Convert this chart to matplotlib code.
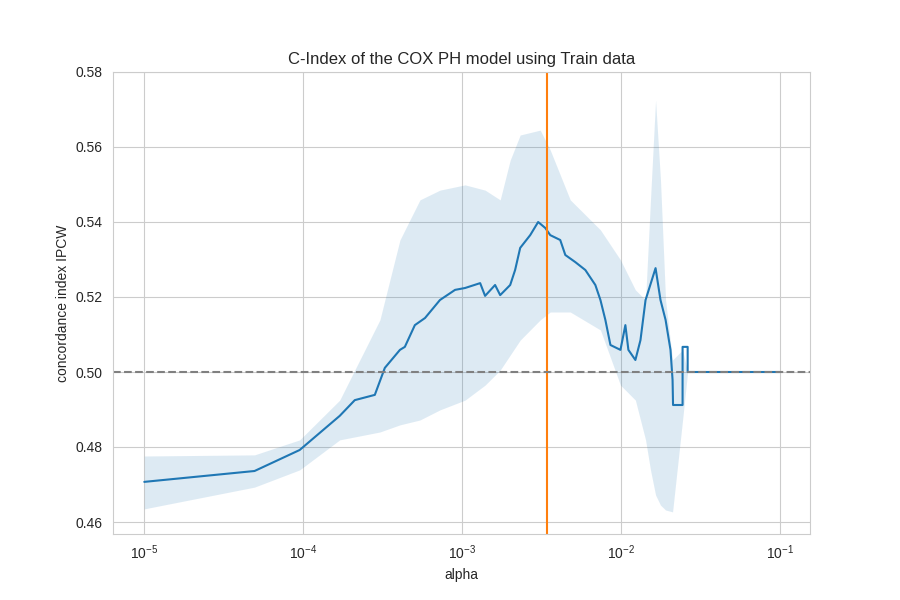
import matplotlib
matplotlib.use('Agg')
import numpy as np
import matplotlib.pyplot as plt
import seaborn as sns

# mean concordance index vs alpha (log10 of alpha)
line_log_alpha = [-5.000, -4.306, -4.022, -3.770, -3.675, -3.549, -3.486, -3.391, -3.360,
                  -3.297, -3.233, -3.139, -3.044, -2.981, -2.886, -2.855, -2.792, -2.760,
                  -2.697, -2.666, -2.634, -2.571, -2.521, -2.476, -2.445, -2.382, -2.350,
                  -2.287, -2.224, -2.161, -2.129, -2.098, -2.066, -2.003, -1.972, -1.953,
                  -1.909, -1.877, -1.845, -1.782, -1.751, -1.719, -1.688, -1.675, -1.672,
                  -1.612, -1.612, -1.580, -1.580, -1.000]
line_cindex = [0.4707, 0.4736, 0.4792, 0.4883, 0.4925, 0.4939, 0.5011, 0.5059, 0.5067,
               0.5125, 0.5144, 0.5192, 0.5219, 0.5224, 0.5237, 0.5203, 0.5232, 0.5205,
               0.5232, 0.5272, 0.5331, 0.5365, 0.5400, 0.5384, 0.5365, 0.5352, 0.5312,
               0.5293, 0.5272, 0.5232, 0.5192, 0.5139, 0.5072, 0.5059, 0.5125, 0.5059,
               0.5032, 0.5085, 0.5192, 0.5277, 0.5192, 0.5139, 0.5059, 0.4979, 0.4912,
               0.4912, 0.5067, 0.5067, 0.5000, 0.5000]

# spread band
band_log_alpha = [-5.000, -4.306, -4.022, -3.770, -3.517, -3.391, -3.265, -3.139, -2.981,
                  -2.855, -2.760, -2.697, -2.634, -2.508, -2.445, -2.319, -2.129, -2.003,
                  -1.909, -1.845, -1.814, -1.782, -1.751, -1.719, -1.675, -1.612, -1.580,
                  -1.000]
band_upper = [0.4776, 0.4779, 0.4819, 0.4925, 0.5139, 0.5352, 0.5459, 0.5485, 0.5499,
              0.5485, 0.5459, 0.5565, 0.5632, 0.5645, 0.5592, 0.5459, 0.5379, 0.5299,
              0.5219, 0.5192, 0.5459, 0.5725, 0.5512, 0.5192, 0.5032, 0.5059, 0.5000,
              0.5000]
band_lower = [0.4635, 0.4693, 0.4739, 0.4819, 0.4840, 0.4859, 0.4872, 0.4899, 0.4925,
              0.4965, 0.5005, 0.5045, 0.5085, 0.5139, 0.5160, 0.5160, 0.5112, 0.4965,
              0.4925, 0.4819, 0.4739, 0.4672, 0.4645, 0.4632, 0.4627, 0.4872, 0.5000,
              0.5000]

best_alpha = 10 ** -2.464
baseline = 0.5

sns.set_style('whitegrid')
plt.rcParams['font.family'] = ['Liberation Sans', 'DejaVu Sans']
fig, ax = plt.subplots(figsize=(9, 6), dpi=100)

ax.fill_between(10 ** np.array(band_log_alpha), band_lower, band_upper,
                color='C0', alpha=0.15, linewidth=0)
ax.plot(10 ** np.array(line_log_alpha), line_cindex, color='C0')
ax.axvline(best_alpha, color='C1')
ax.axhline(baseline, color='grey', linestyle='--')

ax.set_xscale('log')
ax.set_xlim(10 ** -5.2, 10 ** -0.81)
ax.set_ylim(0.4568, 0.58)
ax.set_xlabel('alpha')
ax.set_ylabel('concordance index IPCW')
ax.set_title('C-Index of the COX PH model using Train data')

fig.savefig('out.png')
